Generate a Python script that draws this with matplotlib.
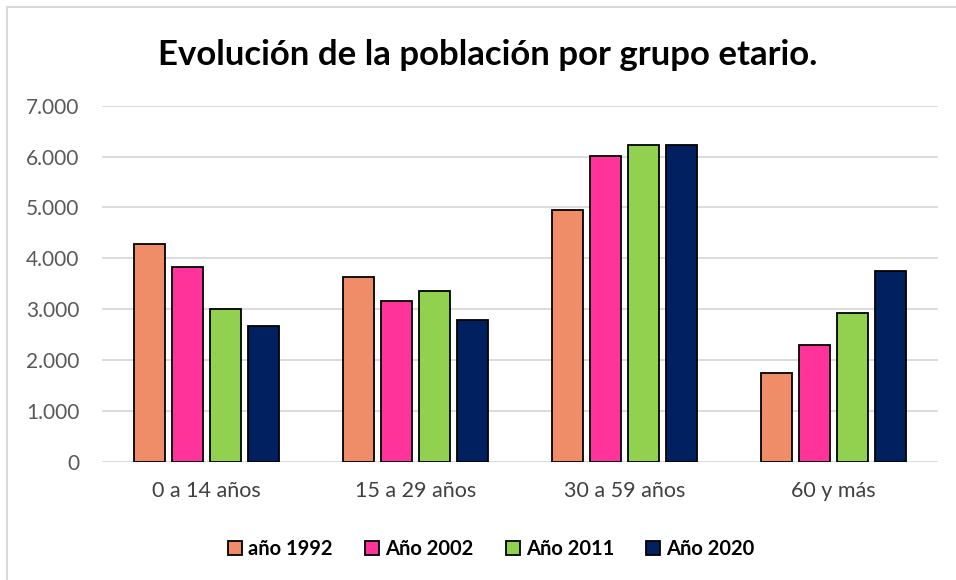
import numpy as np
from matplotlib import pyplot as plt
from matplotlib.patches import Rectangle
from matplotlib.ticker import FuncFormatter

grupos = ['0 a 14 años', '15 a 29 años', '30 a 59 años', '60 y más']
series = ['año 1992', 'Año 2002', 'Año 2011', 'Año 2020']
v1992 = [4274, 3631, 4955, 1744]
v2002 = [3828, 3166, 6011, 2294]
v2011 = [3008, 3350, 6221, 2930]
v2020 = [2668, 2792, 6233, 3744]
colores = ['#EF8D69', '#FF3399', '#92D050', '#002060']

plt.rcParams['font.family'] = ['Lato', 'DejaVu Sans']

fig = plt.figure(figsize=(9.56, 5.8), dpi=100)
# marco gris del gráfico
fig.patches.append(Rectangle((7 / 956, -0.1), 1.2, 1 - 7 / 580 + 0.1, transform=fig.transFigure,
                             fill=False, edgecolor='#d9d9d9', linewidth=1.5))
ax = fig.add_axes([0.1064, 0.204, 0.8745, 0.6138])

x = np.arange(len(grupos))
offsets = [-0.272, -0.091, 0.091, 0.272]
for vals, off, col, lab in zip([v1992, v2002, v2011, v2020], offsets, colores, series):
    ax.bar(x + off, vals, width=0.148, color=col, edgecolor='black', linewidth=1.3,
           label=lab, zorder=3)

ax.set_xlim(-0.5, 3.5)
ax.set_ylim(0, 7000)
ax.set_yticks(range(0, 7001, 1000))
ax.yaxis.set_major_formatter(FuncFormatter(lambda v, p: '{:,.0f}'.format(v).replace(',', '.')))
ax.grid(axis='y', color='#d9d9d9', linewidth=1.3, zorder=0)
for s in ax.spines.values():
    s.set_visible(False)
ax.tick_params(axis='both', length=0, colors='#595959')
ax.tick_params(axis='y', pad=16, labelsize=15)
ax.tick_params(axis='x', pad=14, labelsize=15.5)
ax.set_xticks(x)
ax.set_xticklabels(grupos, color='#404040')

fig.text(0.51, 0.906, 'Evolución de la población por grupo etario.', ha='center', va='center',
         fontsize=25, fontweight='bold', color='black')

leg = ax.legend(loc='center', bbox_to_anchor=(0.466, -0.245), ncol=4, frameon=False,
                prop={'weight': 'bold', 'size': 14.5}, handlelength=0.7, handleheight=0.7,
                handletextpad=0.3, columnspacing=1.6)
for t in leg.get_texts():
    t.set_color('black')

fig.savefig('out.png', dpi=100)
